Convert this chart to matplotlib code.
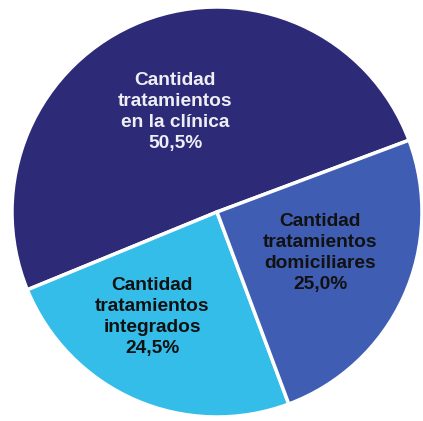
import matplotlib.pyplot as plt

labels = ["Cantidad\ntratamientos\nen la clínica\n50,5%",
          "Cantidad\ntratamientos\nintegrados\n24,5%",
          "Cantidad\ntratamientos\ndomiciliares\n25,0%"]
values = [50.5, 24.5, 25.0]
colors = ["#2d2a78", "#35bdea", "#3f5db3"]
text_colors = ["#eeeef4", "#111111", "#111111"]

W, H = 423, 421
fig = plt.figure(figsize=(W / 100, H / 100), dpi=100)
ax = fig.add_axes([0, 0, 1, 1])

cx, cy, r = 217, H - 212, 205
ax.pie(values, colors=colors, startangle=20.5, counterclock=True,
       center=(cx, cy), radius=r, frame=True,
       wedgeprops=dict(edgecolor="white", linewidth=2.5))
ax.set_xlim(0, W)
ax.set_ylim(0, H)
ax.set_aspect("equal")
ax.axis("off")

# label positions in pixel coords (from top-left)
label_pos = [(175, 112), (152, 317), (320, 253)]
for lab, (x, y), tc in zip(labels, label_pos, text_colors):
    ax.text(x, H - y, lab, ha="center", va="center", color=tc,
            fontsize=13.8, fontweight="bold", family="Liberation Sans",
            linespacing=1.33)

fig.savefig("out.png", dpi=100, facecolor="white")
